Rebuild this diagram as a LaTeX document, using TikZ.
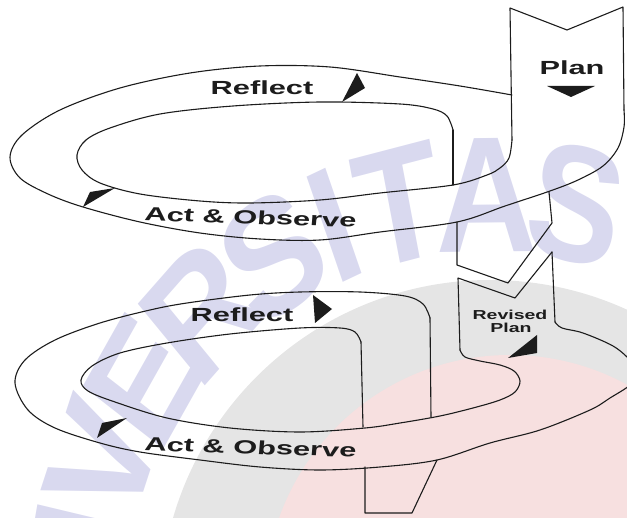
\documentclass[tikz,border=0pt]{standalone}
\usepackage{fontspec}
\setmainfont{Liberation Sans}
\usetikzlibrary{calc}
\definecolor{ink}{HTML}{1C1C1C}
\definecolor{wmblue}{HTML}{D9D9EF}
\definecolor{wmgrey}{HTML}{E5E5E5}
\definecolor{wmpink}{HTML}{F7E0E0}
\begin{document}
\begin{tikzpicture}[x=1pt,y=-1pt,
  rim/.style={draw=ink, line width=1.1pt, line join=round, line cap=round},
  tri/.style={fill=ink},
  lbl/.style={text=ink, font=\fontsize{19}{19}\selectfont\bfseries, inner sep=0pt, xscale=1.62},
  small/.style={text=ink, font=\fontsize{13}{13}\selectfont\bfseries, inner sep=0pt, xscale=1.5, align=center},
  wmark/.style={text=wmblue, font=\fontsize{165}{165}\selectfont\bfseries, inner sep=0pt, xscale=0.85}]
\useasboundingbox (0,0) rectangle (627,518);

% faint seal in the background
\begin{scope}
  \clip (0,0) rectangle (627,518);
  \coordinate (emb) at (490,610);
  \fill[wmgrey] (emb) circle[radius=330];
  \fill[wmpink] (510,600) circle[radius=245];
  \foreach \ch/\ang [count=\i] in {S/78, A/90.5, T/102.5, I/112, S/121.5, R/134, E/146.5, V/159, I/168.5, N/178, U/190.5}
    \node[wmark, rotate=\ang-90] (wm\i) at ($(emb)+(-\ang:415)$) {\ch};
\end{scope}

% ---- first cycle ----
% outer rim, the front band and the Plan strip
\draw[rim] plot[smooth, tension=0.55] coordinates {(512,95) (460,86) (400,77) (330,67) (260,66) (190,73) (120,88) (60,110) (22,135) (10,157) (20,178) (48,194) (83,207) (140,222) (200,233) (260,239) (320,240) (380,232) (457,222) (505,206) (550,191) (578,180) (603,166) (618,148) (624,127) (624,110)};
\draw[rim] (624,110) -- (623,7) -- (567,30) -- (510,8) -- (512,140);
% inner rim
\draw[rim] plot[smooth, tension=0.55] coordinates {(512,140) (509,158) (500,168) (487,175) (453,185) (380,193) (320,200) (250,203) (200,201) (140,194) (100,183) (82,170) (77,155) (86,140) (110,128) (160,114) (233,106) (320,102) (400,104) (433,109) (447,116) (453,130)};
\draw[rim] (453,130) -- (453,185);
% strip leaving the first cycle
\draw[rim] (457,222) -- (457,265) -- (508,283) -- (552,223) -- (549,192);

% ---- second cycle ----
\draw[rim] (552,252) -- (555,322);
\draw[rim] plot[smooth, tension=0.55] coordinates {(555,322) (562,328) (583,333) (613,346) (630,360) (638,372) (630,385) (610,398) (590,410) (540,430) (490,443) (437,460) (380,467) (320,470) (260,467) (200,460) (140,452) (100,443) (55,428) (28,410) (15,383) (25,360) (55,340) (100,323) (150,310) (187,303) (250,295) (300,292) (360,292) (405,296) (423,304) (430,318)};
\draw[rim] (430,318) -- (431,417);
\draw[rim] (552,252) -- (515,298) -- (458,278) -- (460,350);
\draw[rim] plot[smooth, tension=0.55] coordinates {(460,350) (465,357) (480,361) (500,365) (514,371) (520,381) (515,392) (500,400) (473,408) (440,416) (400,423) (365,428) (300,432) (230,428) (167,418) (115,402) (88,391) (81,380) (92,366) (120,353) (167,343) (230,334) (300,328) (340,328) (355,332) (361,342)};
\draw[rim] (361,342) -- (363,427);
\draw[rim] (365,467) -- (365,513) -- (412,513) -- (437,460);

% direction marks
\fill[tri] (342,102) -- (357,73) -- (365,88) -- cycle;
\fill[tri] (83,207) -- (90,192) -- (115,188) -- cycle;
\fill[tri] (547,86) -- (595,86) -- (571,97) -- cycle;
\fill[tri] (313,295) -- (332,309) -- (315,323) -- cycle;
\fill[tri] (97,438) -- (102,423) -- (127,418) -- cycle;
\fill[tri] (508,358) -- (537,335) -- (537,353) -- cycle;

% labels
\node[lbl, anchor=base] (reflectA) at (262,95) {Reflect};
\node[lbl, anchor=base, rotate=-3] (actA) at (250,224) {Act \& Observe};
\node[lbl, anchor=base] (planA) at (572,75) {Plan};
\node[lbl, anchor=base] (reflectB) at (242,322) {Reflect};
\node[lbl, anchor=base, rotate=-3] (actB) at (250,454) {Act \& Observe};
\node[small, anchor=base] (revA) at (510,320) {Revised};
\node[small, anchor=base] (revB) at (511,333) {Plan};
\end{tikzpicture}
\end{document}
